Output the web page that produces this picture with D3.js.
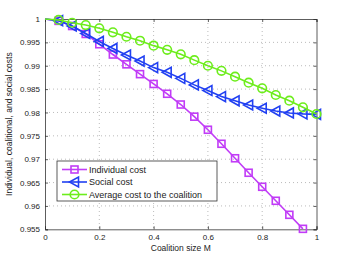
<!DOCTYPE html>
<html>
<head>
    <script src="https://cdn.jsdelivr.net/npm/d3@7"></script>
    <style>
        * { margin: 0; padding: 0; }
        body { background: #fff; overflow: hidden; }
        text { font-family: "Liberation Sans", Arial, sans-serif; fill: #222; }
    </style>
</head>
<body>
<div id="chart"></div>
<script>
    // coalition size M, 0 .. 1 step 0.05
    const sizes = [0, 0.05, 0.1, 0.15, 0.2, 0.25, 0.3, 0.35, 0.4, 0.45, 0.5,
        0.55, 0.6, 0.65, 0.7, 0.75, 0.8, 0.85, 0.9, 0.95, 1]
    const individualCost = [1, 0.9996, 0.9985, 0.9968, 0.9946, 0.9924, 0.9903, 0.9882, 0.9861, 0.9840, 0.9817,
        0.9791, 0.9763, 0.9733, 0.9702, 0.9671, 0.9641, 0.9611, 0.9581, 0.9551]
    const socialCost = [1, 0.99965, 0.9985, 0.9969, 0.9952, 0.9937, 0.9923, 0.9910, 0.9896, 0.9886, 0.9873,
        0.9859, 0.9847, 0.9834, 0.9825, 0.9816, 0.9809, 0.9803, 0.9799, 0.9797, 0.9796]
    const coalitionCost = [1, 0.9998, 0.9992, 0.9987, 0.9980, 0.99715, 0.9962, 0.99535, 0.9943, 0.9934, 0.99245,
        0.9912, 0.9900, 0.9889, 0.98765, 0.98637, 0.98517, 0.98374, 0.98252, 0.9811, 0.97967]
    const xTicks = [0, 0.2, 0.4, 0.6, 0.8, 1]
    const yTicks = [0.955, 0.96, 0.965, 0.97, 0.975, 0.98, 0.985, 0.99, 0.995, 1]
    const names = ['Individual cost', 'Social cost', 'Average cost to the coalition']

    const W = 350, H = 259
    const m = { left: 45, right: 33.5, top: 19, bottom: 29.7 }
    const pw = W - m.left - m.right, ph = H - m.top - m.bottom

    const svg = d3.select('#chart').append('svg').attr('width', W).attr('height', H)
    const g = svg.append('g').attr('transform', `translate(${m.left},${m.top})`)

    const x = d3.scaleLinear().domain([0, 1]).range([0, pw])
    const y = d3.scaleLinear().domain([0.955, 1]).range([ph, 0])

    // grid
    g.append('g').selectAll('line').data(xTicks.slice(1, -1)).join('line')
        .attr('x1', d => x(d)).attr('x2', d => x(d)).attr('y1', 0).attr('y2', ph)
        .attr('stroke', '#aaa').attr('stroke-width', 0.8).attr('stroke-dasharray', '1,3')
    g.append('g').selectAll('line').data(yTicks.slice(1, -1)).join('line')
        .attr('y1', d => y(d)).attr('y2', d => y(d)).attr('x1', 0).attr('x2', pw)
        .attr('stroke', '#aaa').attr('stroke-width', 0.8).attr('stroke-dasharray', '1,3')

    // axes
    const xAxis = g.append('g').attr('transform', `translate(0,${ph})`)
        .call(d3.axisBottom(x).tickValues(xTicks).tickFormat(d3.format('')).tickSize(-3).tickPadding(5))
    const yAxis = g.append('g')
        .call(d3.axisLeft(y).tickValues(yTicks).tickFormat(d3.format('')).tickSize(-3).tickPadding(5))
    g.append('g').call(d3.axisTop(x).tickValues(xTicks).tickFormat('').tickSize(-3))
    g.append('g').attr('transform', `translate(${pw},0)`)
        .call(d3.axisRight(y).tickValues(yTicks).tickFormat('').tickSize(-3))
    g.selectAll('.domain').attr('stroke', '#333').attr('stroke-width', 0.8)
    g.selectAll('.tick line').attr('stroke', '#333').attr('stroke-width', 0.8)
    g.selectAll('.tick text').attr('font-size', 8).attr('font-family', '"Liberation Sans", Arial, sans-serif').attr('fill', '#222')

    svg.append('text').attr('x', m.left + pw / 2).attr('y', 251).attr('text-anchor', 'middle')
        .attr('font-size', 8.5).text('Coalition size M')
    svg.append('text').attr('transform', `translate(12,${m.top + ph / 2}) rotate(-90)`)
        .attr('text-anchor', 'middle').attr('font-size', 8.5)
        .text('Individual, coalitional, and social costs')

    const colors = ['#c13cf7', '#2140f2', '#6ded1c']
    const series = [individualCost, socialCost, coalitionCost]
    const line = d3.line().x(d => x(d[0])).y(d => y(d[1]))

    const tri = 'M-5,0L4,-5L4,5Z'
    function marker(sel, k, c) {
        if (k == 0) {
            sel.append('rect').attr('x', -3.5).attr('y', -3.5).attr('width', 7).attr('height', 7)
                .attr('fill', 'none').attr('stroke', c).attr('stroke-width', 1.6)
        } else if (k == 1) {
            sel.append('path').attr('d', tri)
                .attr('fill', 'none').attr('stroke', c).attr('stroke-width', 1.6)
        } else {
            sel.append('circle').attr('r', 4.3)
                .attr('fill', 'none').attr('stroke', c).attr('stroke-width', 1.6)
        }
    }

    series.forEach((vals, k) => {
        const pts = vals.map((v, i) => [sizes[i], v])
        g.append('path').datum(pts).attr('d', line)
            .attr('fill', 'none').attr('stroke', colors[k]).attr('stroke-width', 1.6)
        pts.slice(1).forEach(p => {
            const mk = g.append('g').attr('transform', `translate(${x(p[0])},${y(p[1])})`)
            marker(mk, k, colors[k])
        })
    })

    // legend
    const lg = svg.append('g').attr('transform', 'translate(57,161)')
    lg.append('rect').attr('width', 160).attr('height', 40)
        .attr('fill', '#fff').attr('stroke', '#333').attr('stroke-width', 0.8)
    names.forEach((n, k) => {
        const row = lg.append('g').attr('transform', `translate(0,${8.5 + k * 12.5})`)
        row.append('line').attr('x1', 5).attr('x2', 30)
            .attr('stroke', colors[k]).attr('stroke-width', 1.6)
        marker(row.append('g').attr('transform', 'translate(17.5,0)'), k, colors[k])
        row.append('text').attr('x', 32).attr('y', 3.2).attr('font-size', 9).text(n)
    })
</script>
</body>
</html>
